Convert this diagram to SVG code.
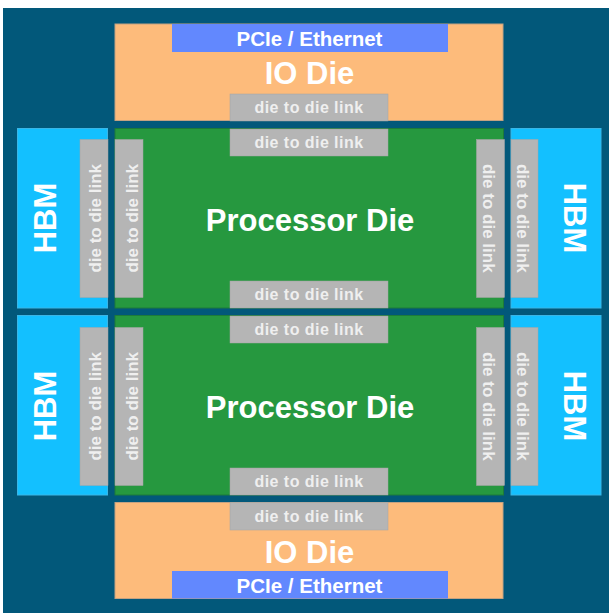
<svg xmlns="http://www.w3.org/2000/svg" width="609" height="613" viewBox="0 0 609 613">
<style>
.bg{fill:#02587a}
.io{fill:#fdbb7b;stroke:#c4a282;stroke-width:1}
.pcie{fill:#6288fe}
.proc{fill:#26983f;stroke:#1d7a3a;stroke-width:1}
.hbm{fill:#13c0ff;stroke:#3ab6e6;stroke-width:1}
.link{fill:#b5b5b5;stroke:#a5a5a5;stroke-width:0.5}
text{font-family:"Liberation Sans",Arial,sans-serif;font-weight:bold;fill:#ffffff;text-anchor:middle}
.big{font-size:31px}
.pt{font-size:20.5px}
.lt{font-size:16px;letter-spacing:0.45px;fill:#efefef}
.vt{font-size:17px;fill:#efefef}
</style>
<rect class="bg" x="3" y="8" width="606" height="605"/>

<g id="io-top">
<rect class="io" x="115" y="24" width="388" height="96.5"/>
<rect class="pcie" x="172" y="24" width="276" height="28"/>
<text class="pt" x="309.5" y="46">PCIe / Ethernet</text>
<text class="big" x="309.5" y="84">IO Die</text>
</g>
<g id="io-top-link">
<rect class="link" x="230" y="94" width="158" height="27"/>
<text class="lt" x="309" y="113.3">die to die link</text>
</g>

<g id="proc-1">
<rect class="proc" x="115" y="128.5" width="388.5" height="179.5"/>
<text class="big" x="310" y="230.7">Processor Die</text>
</g>
<g id="proc-1-link-top">
<rect class="link" x="230" y="129" width="158" height="27"/>
<text class="lt" x="309" y="148.3">die to die link</text>
</g>
<g id="proc-1-link-bottom">
<rect class="link" x="230" y="281" width="158" height="27"/>
<text class="lt" x="309" y="300.3">die to die link</text>
</g>
<g id="proc-1-link-left">
<rect class="link" x="115" y="139.5" width="28" height="158"/>
<text class="vt" transform="translate(138.3,218.3) rotate(-90)">die to die link</text>
</g>
<g id="proc-1-link-right">
<rect class="link" x="476.5" y="139.5" width="28" height="158"/>
<text class="vt" transform="translate(483.3,218.3) rotate(90)">die to die link</text>
</g>

<g id="hbm-1-left">
<rect class="hbm" x="17.5" y="128.5" width="90" height="179.5"/>
<text class="big" transform="translate(56,218) rotate(-90)">HBM</text>
</g>
<g id="hbm-1-left-link">
<rect class="link" x="80" y="139.5" width="28" height="158"/>
<text class="vt" transform="translate(101,218.3) rotate(-90)">die to die link</text>
</g>
<g id="hbm-1-right">
<rect class="hbm" x="511" y="128.5" width="90" height="179.5"/>
<text class="big" transform="translate(563.5,218) rotate(90)">HBM</text>
</g>
<g id="hbm-1-right-link">
<rect class="link" x="511" y="139.5" width="27" height="158"/>
<text class="vt" transform="translate(516.7,218.3) rotate(90)">die to die link</text>
</g>

<g id="proc-2">
<rect class="proc" x="115" y="315.5" width="388.5" height="179.5"/>
<text class="big" x="310" y="418.3">Processor Die</text>
</g>
<g id="proc-2-link-top">
<rect class="link" x="230" y="316" width="158" height="27"/>
<text class="lt" x="309" y="335.3">die to die link</text>
</g>
<g id="proc-2-link-bottom">
<rect class="link" x="230" y="468" width="158" height="27"/>
<text class="lt" x="309" y="487.3">die to die link</text>
</g>
<g id="proc-2-link-left">
<rect class="link" x="115" y="327.5" width="28" height="158"/>
<text class="vt" transform="translate(138.3,406.3) rotate(-90)">die to die link</text>
</g>
<g id="proc-2-link-right">
<rect class="link" x="476.5" y="327.5" width="28" height="158"/>
<text class="vt" transform="translate(483.3,406.3) rotate(90)">die to die link</text>
</g>

<g id="hbm-2-left">
<rect class="hbm" x="17.5" y="315.5" width="90" height="179.5"/>
<text class="big" transform="translate(56,406) rotate(-90)">HBM</text>
</g>
<g id="hbm-2-left-link">
<rect class="link" x="80" y="327.5" width="28" height="158"/>
<text class="vt" transform="translate(101,406.3) rotate(-90)">die to die link</text>
</g>
<g id="hbm-2-right">
<rect class="hbm" x="511" y="315.5" width="90" height="179.5"/>
<text class="big" transform="translate(563.5,406) rotate(90)">HBM</text>
</g>
<g id="hbm-2-right-link">
<rect class="link" x="511" y="327.5" width="27" height="158"/>
<text class="vt" transform="translate(516.7,406.3) rotate(90)">die to die link</text>
</g>

<g id="io-bottom">
<rect class="io" x="115" y="502.5" width="388" height="96"/>
<rect class="pcie" x="172" y="571" width="276" height="27.5"/>
<text class="big" x="309.5" y="562.7">IO Die</text>
<text class="pt" x="309.5" y="592.7">PCIe / Ethernet</text>
</g>
<g id="io-bottom-link">
<rect class="link" x="230" y="502.5" width="158" height="27.5"/>
<text class="lt" x="309" y="521.8">die to die link</text>
</g>
</svg>
